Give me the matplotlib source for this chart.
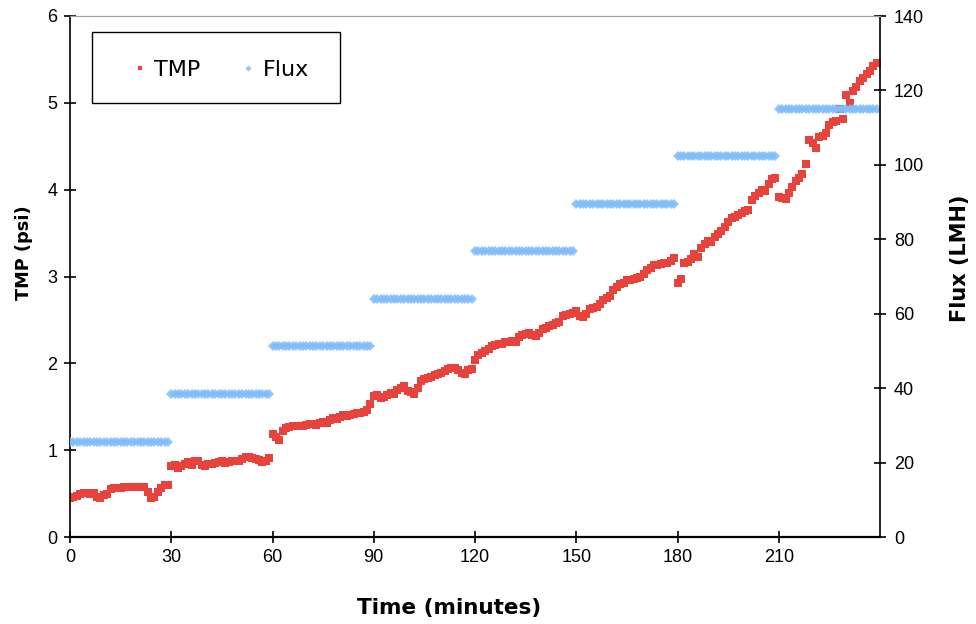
import numpy as np
import matplotlib
matplotlib.use("Agg")
import matplotlib.pyplot as plt
from matplotlib.patches import Rectangle

# TMP (psi), one reading per minute, split by flux step
tmp_0_29 = [0.45, 0.46, 0.47, 0.49, 0.51, 0.51, 0.50, 0.51, 0.46, 0.45,
            0.48, 0.50, 0.55, 0.56, 0.57, 0.57, 0.58, 0.58, 0.58, 0.58,
            0.58, 0.58, 0.58, 0.52, 0.45, 0.46, 0.52, 0.57, 0.60, 0.60]
tmp_30_59 = [0.82, 0.83, 0.80, 0.82, 0.84, 0.86, 0.83, 0.87, 0.88, 0.83,
             0.82, 0.84, 0.84, 0.85, 0.86, 0.87, 0.85, 0.86, 0.87, 0.88,
             0.88, 0.90, 0.92, 0.92, 0.91, 0.90, 0.89, 0.86, 0.88, 0.91]
tmp_60_89 = [1.19, 1.15, 1.12, 1.22, 1.25, 1.27, 1.28, 1.28, 1.28, 1.28,
             1.29, 1.30, 1.30, 1.29, 1.31, 1.33, 1.31, 1.35, 1.37, 1.36,
             1.38, 1.40, 1.39, 1.41, 1.42, 1.43, 1.43, 1.44, 1.46, 1.53]
tmp_90_119 = [1.62, 1.63, 1.60, 1.61, 1.63, 1.66, 1.65, 1.69, 1.72, 1.74,
              1.68, 1.67, 1.65, 1.72, 1.80, 1.82, 1.83, 1.84, 1.86, 1.88,
              1.89, 1.91, 1.94, 1.95, 1.95, 1.92, 1.89, 1.88, 1.92, 1.93]
tmp_120_149 = [2.04, 2.10, 2.12, 2.14, 2.16, 2.20, 2.21, 2.22, 2.22, 2.24,
               2.25, 2.26, 2.25, 2.30, 2.33, 2.34, 2.35, 2.33, 2.31, 2.35,
               2.40, 2.41, 2.43, 2.44, 2.46, 2.48, 2.54, 2.56, 2.57, 2.58]
tmp_150_179 = [2.60, 2.55, 2.53, 2.57, 2.62, 2.64, 2.65, 2.68, 2.73, 2.75,
               2.77, 2.84, 2.88, 2.91, 2.93, 2.96, 2.96, 2.97, 2.98, 3.00,
               3.03, 3.07, 3.10, 3.13, 3.13, 3.14, 3.15, 3.16, 3.18, 3.21]
tmp_180_209 = [2.93, 2.97, 3.15, 3.17, 3.20, 3.26, 3.22, 3.33, 3.38, 3.41,
               3.40, 3.45, 3.49, 3.52, 3.57, 3.63, 3.67, 3.68, 3.71, 3.73,
               3.75, 3.77, 3.88, 3.93, 3.96, 4.00, 3.98, 4.07, 4.12, 4.13]
tmp_210_239 = [3.92, 3.90, 3.89, 3.96, 4.03, 4.10, 4.13, 4.18, 4.29, 4.57,
               4.54, 4.48, 4.61, 4.62, 4.65, 4.75, 4.78, 4.79, 4.93, 4.81,
               5.09, 5.00, 5.14, 5.18, 5.25, 5.29, 5.33, 5.37, 5.42, 5.46]

# flux setpoints (LMH), each held for 30 minutes
flux_levels = [25.6, 38.4, 51.2, 64.0, 76.8, 89.6, 102.4, 115.0]
minutes_per_step = 30

tmp = np.array(tmp_0_29 + tmp_30_59 + tmp_60_89 + tmp_90_119 +
               tmp_120_149 + tmp_150_179 + tmp_180_209 + tmp_210_239)
time = np.arange(len(tmp))
flux = np.repeat(flux_levels, minutes_per_step)
time_flux = np.arange(len(flux))

red = "#E8423C"
blue = "#7FBDFA"

fig = plt.figure(figsize=(9.76, 6.24), dpi=100)
ax = fig.add_axes([70/976, 1-537/624, 810/976, 521/624])
ax2 = ax.twinx()

l1, = ax.plot(time, tmp, ls="none", marker="s", ms=5.6, color=red, mew=0, label="TMP")
l2, = ax2.plot(time_flux, flux, ls="none", marker="D", ms=5.2, color=blue, mew=0,
               alpha=0.85, label="Flux")

ax.set_xlim(0, 240)
ax.set_ylim(0, 6)
ax2.set_ylim(0, 140)
ax.set_xticks(np.arange(0, 211, 30))
ax.set_yticks(np.arange(0, 7, 1))
ax2.set_yticks(np.arange(0, 141, 20))

for a in (ax, ax2):
    a.spines["top"].set_color("#A0A0A0")
    a.spines["top"].set_linewidth(0.8)
ax.spines["right"].set_visible(False)
ax.spines["left"].set_linewidth(1.2)
ax.spines["bottom"].set_linewidth(1.6)
ax2.spines["left"].set_visible(False)
ax2.spines["bottom"].set_visible(False)
ax2.spines["right"].set_linewidth(1.2)

ax.tick_params(axis="both", direction="inout", length=8, width=1.2, pad=5)
ax2.tick_params(axis="y", direction="inout", length=8, width=1.2, pad=6)
for lab in ax.get_xticklabels() + ax.get_yticklabels() + ax2.get_yticklabels():
    lab.set_fontfamily("Liberation Sans")
    lab.set_fontsize(13)

ax.set_xlabel("Time (minutes)", fontsize=15.5, fontweight="bold")
ax.set_ylabel("TMP (psi)", fontsize=12.8, fontweight="bold")
ax2.set_ylabel("Flux (LMH)", fontsize=15, fontweight="bold")
ax.xaxis.set_label_coords(0.468, -0.117)
ax.yaxis.set_label_coords(-0.046, 0.546)
ax2.yaxis.set_label_coords(1.087, 0.534)

# legend box drawn separately so the entries can sit where the original has them
box = Rectangle((0.0272, 0.833), 0.3061, 0.1363, transform=ax.transAxes,
                facecolor="white", edgecolor="black", linewidth=1.0, zorder=9)
ax.add_patch(box)
leg = ax.legend(handles=[l1, l2], loc="center left", ncol=2,
                bbox_to_anchor=(0.0765, 0.897), borderaxespad=0, borderpad=0,
                fontsize=16, frameon=False, markerscale=0.6,
                handlelength=0.7, handletextpad=0.3, columnspacing=1.8)
leg.set_zorder(10)

fig.savefig("out.png", dpi=100)
